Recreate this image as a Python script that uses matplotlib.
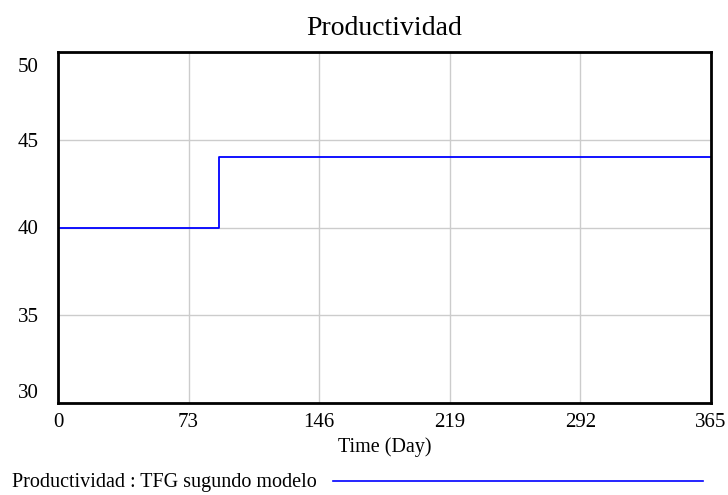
import numpy as np
import matplotlib.pyplot as plt
from matplotlib.lines import Line2D
from matplotlib.transforms import ScaledTranslation

plt.rcParams['font.family'] = ['Liberation Serif', 'DejaVu Serif']

days = [0, 90, 365]
productividad = [40, 44, 44]
x_ticks = [0, 73, 146, 219, 292, 365]
y_ticks = [30, 35, 40, 45, 50]

fig = plt.figure(figsize=(7.28, 4.95), dpi=100)
ax = fig.add_axes([58/728, 1 - 403/495, (711 - 58)/728, (403 - 52)/495])

ax.plot(days, productividad, '-', color='#0000ff', lw=1.3, drawstyle='steps-post')

ax.set_xlim(0, 365)
ax.set_ylim(30, 50)
ax.set_xticks(x_ticks)
ax.set_yticks(y_ticks)
ax.tick_params(length=0, labelsize=15)
ax.tick_params(axis='y', pad=14)
ax.tick_params(axis='x', pad=7)
ax.grid(True, color='#cccccc', lw=1)
for s in ax.spines.values():
    s.set_linewidth(2)
    s.set_color('black')

# vensim keeps the end labels inside the frame
labels = ax.get_yticklabels()
labels[0].set_verticalalignment('bottom')
labels[-1].set_verticalalignment('top')
labels[-1].set_transform(labels[-1].get_transform() + ScaledTranslation(0, -6/100, fig.dpi_scale_trans))

ax.set_xlabel('Time (Day)', fontsize=14.5, labelpad=4)
ax.set_title('Productividad', fontsize=20, pad=12)

fig.text(12/728, 1 - 483/495, 'Productividad : TFG sugundo modelo', fontsize=14.5, va='center')
fig.add_artist(Line2D([333/728, 703/728], [1 - 481/495, 1 - 481/495], color='#0000ff', lw=1.2))

fig.savefig('out.png', dpi=100)
